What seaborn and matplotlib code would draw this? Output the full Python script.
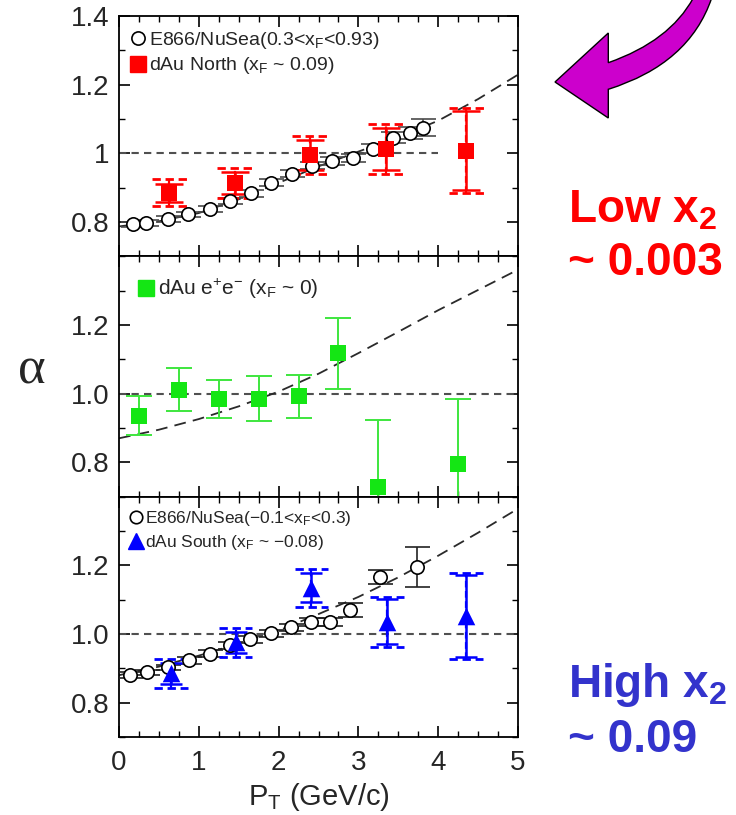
import numpy as np
import matplotlib
matplotlib.use("Agg")
import matplotlib.pyplot as plt
import seaborn as sns
from matplotlib.lines import Line2D
from matplotlib.path import Path
from matplotlib.patches import PathPatch
from matplotlib.ticker import MultipleLocator, FixedLocator, FixedFormatter

# ---------------- data ----------------
# E866/NuSea, 0.3 < xF < 0.93
e866_fwd_pt = [0.17, 0.34, 0.61, 0.87, 1.14, 1.39, 1.65, 1.91, 2.17, 2.42, 2.67, 2.93, 3.18, 3.43, 3.65, 3.81]
e866_fwd_alpha = [0.793, 0.797, 0.808, 0.822, 0.838, 0.860, 0.883, 0.914, 0.940, 0.964, 0.977, 0.986, 1.013, 1.046, 1.060, 1.075]
e866_fwd_err = [0.008, 0.008, 0.008, 0.008, 0.009, 0.009, 0.009, 0.010, 0.010, 0.011, 0.011, 0.012, 0.013, 0.015, 0.018, 0.025]

# dAu North arm (xF ~ 0.09)
north_pt = [0.63, 1.45, 2.39, 3.34, 4.35]
north_alpha = [0.885, 0.913, 0.995, 1.012, 1.008]
north_stat = [0.026, 0.032, 0.043, 0.061, 0.115]
north_sys = [0.039, 0.044, 0.054, 0.073, 0.123]

# dAu e+e- (xF ~ 0)
ee_pt = [0.25, 0.75, 1.25, 1.75, 2.25, 2.75, 3.25, 4.25]
ee_alpha = [0.936, 1.012, 0.985, 0.985, 0.992, 1.117, 0.728, 0.796]
ee_err = [0.057, 0.063, 0.055, 0.066, 0.062, 0.104, 0.196, 0.188]

# E866/NuSea, -0.1 < xF < 0.3
e866_mid_pt = [0.14, 0.35, 0.61, 0.88, 1.14, 1.39, 1.64, 1.90, 2.15, 2.40, 2.65, 2.90, 3.27, 3.73]
e866_mid_alpha = [0.880, 0.888, 0.903, 0.923, 0.943, 0.967, 0.984, 1.002, 1.019, 1.035, 1.035, 1.070, 1.165, 1.194]
e866_mid_err = [0.008, 0.008, 0.008, 0.009, 0.009, 0.010, 0.010, 0.010, 0.011, 0.012, 0.013, 0.020, 0.020, 0.058]

# dAu South arm (xF ~ -0.08)
south_pt = [0.65, 1.46, 2.41, 3.36, 4.35]
south_alpha = [0.885, 0.976, 1.135, 1.036, 1.053]
south_stat = [0.031, 0.030, 0.043, 0.066, 0.120]
south_sys = [0.042, 0.042, 0.055, 0.073, 0.125]

# fitted alpha(pT) curves, one per panel
curve_pt = [0.0, 0.5, 1.0, 1.5, 2.0, 2.5, 3.0, 3.5, 4.0, 4.5, 5.0]
curve_fwd = [0.787, 0.802, 0.826, 0.866, 0.914, 0.962, 1.005, 1.047, 1.095, 1.158, 1.229]
curve_ee = [0.870, 0.895, 0.926, 0.963, 1.006, 1.058, 1.118, 1.180, 1.243, 1.302, 1.361]
curve_mid = [0.880, 0.905, 0.937, 0.972, 1.010, 1.058, 1.108, 1.165, 1.228, 1.295, 1.365]

ref_line_end = [4.0, 5.0, 5.0]

xticks = [0, 1, 2, 3, 4, 5]
top_yticks = [0.8, 1.0, 1.2, 1.4]
top_ylabels = ["0.8", "1", "1.2", "1.4"]
low_yticks = [0.8, 1.0, 1.2]
low_ylabels = ["0.8", "1.0", "1.2"]

# ---------------- style ----------------
sns.set_theme(style="ticks")
plt.rcParams["font.family"] = ["Liberation Sans", "DejaVu Sans"]
plt.rcParams["mathtext.fontset"] = "custom"
plt.rcParams["mathtext.rm"] = "Liberation Sans"
plt.rcParams["mathtext.it"] = "Liberation Sans:italic"
plt.rcParams["mathtext.bf"] = "Liberation Sans:bold"

RED = "#ff0000"
GREEN = "#14e614"
BLUE = "#0000ff"
DASH_GREY = "#505050"

fig = plt.figure(figsize=(7.36, 8.15), dpi=100)
gs = fig.add_gridspec(3, 1, left=0.1617, right=0.7038, top=0.9804, bottom=0.0957, hspace=0)
axes = [fig.add_subplot(gs[i]) for i in range(3)]


def style_axis(ax, yticks, ylabels, show_x):
    ax.set_xlim(0, 5)
    ax.set_ylim(0.7, 1.4)
    ax.xaxis.set_major_locator(FixedLocator(xticks))
    ax.xaxis.set_minor_locator(MultipleLocator(0.25))
    ax.yaxis.set_major_locator(FixedLocator(yticks))
    ax.yaxis.set_major_formatter(FixedFormatter(ylabels))
    ax.yaxis.set_minor_locator(MultipleLocator(0.1))
    ax.tick_params(which="major", direction="in", top=True, right=True,
                   length=8, width=1.2, color="black", labelsize=20, pad=7)
    ax.tick_params(which="minor", direction="in", top=True, right=True,
                   length=4.5, width=1.0, color="black")
    ax.tick_params(axis="x", pad=9)
    if not show_x:
        ax.tick_params(axis="x", labelbottom=False)
    for s in ax.spines.values():
        s.set_linewidth(1.3)
        s.set_color("black")
        s.set_visible(True)
    ax.set_xlabel("")
    ax.set_ylabel("")


def sys_brackets(ax, x, y, sys, color, half):
    x = np.asarray(x)
    y = np.asarray(y)
    sys = np.asarray(sys)
    ax.vlines(x, y - sys, y + sys, colors=color, linestyles=(0, (3, 1.6)), lw=1.6, zorder=3)
    for sign in (-1, 1):
        ax.hlines(y + sign * sys, x - half, x + half, colors=color,
                  linestyles=(0, (3, 1.7)), lw=2.0, zorder=3)


def guide_lines(ax, curve, end):
    ax.hlines(1.0, 0, end, colors=DASH_GREY, linestyles=(0, (3.5, 2.5)), lw=1.5, zorder=1)
    sns.lineplot(x=curve_pt, y=curve, ax=ax, color="#2a2a2a", lw=1.3,
                 linestyle=(0, (6.5, 4)), zorder=2, legend=False)


def e866(ax, x, y, err, cap_color):
    ax.errorbar(x, y, yerr=err, fmt="none", ecolor=cap_color, elinewidth=1.2,
                capsize=9, capthick=1.2, zorder=3)
    sns.scatterplot(x=x, y=y, ax=ax, marker="o", s=92, facecolor="white",
                    edgecolor="black", linewidth=1.2, zorder=6, legend=False)


# ---- top panel: forward E866 and dAu North ----
ax = axes[0]
guide_lines(ax, curve_fwd, ref_line_end[0])
e866(ax, e866_fwd_pt, e866_fwd_alpha, e866_fwd_err, "#4a4a4a")
sys_brackets(ax, north_pt, north_alpha, north_sys, RED, 0.22)
ax.errorbar(north_pt, north_alpha, yerr=north_stat, fmt="none", ecolor=RED,
            elinewidth=1.8, capsize=10, capthick=1.8, zorder=4)
sns.scatterplot(x=north_pt, y=north_alpha, ax=ax, marker="s", s=130, color=RED,
                edgecolor=RED, linewidth=0, zorder=7, legend=False)
style_axis(ax, top_yticks, top_ylabels, False)
h = [Line2D([], [], ls="none", marker="o", ms=9.5, mfc="white", mec="black", mew=1.2),
     Line2D([], [], ls="none", marker="s", ms=11, mfc=RED, mec=RED)]
ax.legend(h, [r"E866/NuSea(0.3<x$_{\mathrm{F}}$<0.93)", r"dAu North (x$_{\mathrm{F}}$ ~ 0.09)"],
          loc="upper left", frameon=False, fontsize=14, handlelength=0.6,
          handletextpad=0.25, labelspacing=0.25, borderaxespad=0.3, borderpad=0.4)

# ---- middle panel: dAu e+e- ----
ax = axes[1]
guide_lines(ax, curve_ee, ref_line_end[1])
ax.errorbar(ee_pt, ee_alpha, yerr=ee_err, fmt="none", ecolor="#3ee63e",
            elinewidth=1.4, capsize=9.5, capthick=1.4, zorder=4)
sns.scatterplot(x=ee_pt, y=ee_alpha, ax=ax, marker="s", s=125, color=GREEN,
                edgecolor=GREEN, linewidth=0, zorder=7, legend=False)
style_axis(ax, low_yticks, low_ylabels, False)
h = [Line2D([], [], ls="none", marker="s", ms=11, mfc=GREEN, mec=GREEN)]
ax.legend(h, [r"dAu e$^{+}$e$^{-}$ (x$_{\mathrm{F}}$ ~ 0)"],
          loc="upper left", frameon=False, fontsize=15, handlelength=0.6,
          handletextpad=0.25, borderaxespad=0.6, borderpad=0.4)

# ---- bottom panel: mid-rapidity E866 and dAu South ----
ax = axes[2]
guide_lines(ax, curve_mid, ref_line_end[2])
e866(ax, e866_mid_pt, e866_mid_alpha, e866_mid_err, "#222222")
sys_brackets(ax, south_pt, south_alpha, south_sys, BLUE, 0.21)
ax.errorbar(south_pt, south_alpha, yerr=south_stat, fmt="none", ecolor=BLUE,
            elinewidth=1.8, capsize=8, capthick=1.8, zorder=4)
sns.scatterplot(x=south_pt, y=south_alpha, ax=ax, marker="^", s=160, color=BLUE,
                edgecolor=BLUE, linewidth=0, zorder=7, legend=False)
style_axis(ax, low_yticks, low_ylabels, True)
ax.set_xticklabels([str(t) for t in xticks])
ax.set_xlabel(r"P$_{\mathrm{T}}$ (GeV/c)", fontsize=21, labelpad=4)
h = [Line2D([], [], ls="none", marker="o", ms=9, mfc="white", mec="black", mew=1.2),
     Line2D([], [], ls="none", marker="^", ms=12, mfc=BLUE, mec=BLUE)]
ax.legend(h, [r"E866/NuSea(−0.1<x$_{\mathrm{F}}$<0.3)", r"dAu South (x$_{\mathrm{F}}$ ~ −0.08)"],
          loc="upper left", frameon=False, fontsize=12.5, handlelength=0.6,
          handletextpad=0.2, labelspacing=0.3, borderaxespad=0.3, borderpad=0.4)

# ---- shared y label ----
fig.text(32 / 736, 1 - 370 / 815, "α", family=["Liberation Serif", "DejaVu Serif"],
         fontsize=38, ha="center", va="center")

# ---- side annotations ----
fig.text(568 / 736, 1 - 222 / 815, r"Low x$_{\mathbf{2}}$", color=RED, fontsize=33,
         fontweight="bold", ha="left", va="baseline")
fig.text(568 / 736, 1 - 275 / 815, "~ 0.003", color=RED, fontsize=33,
         fontweight="bold", ha="left", va="baseline")
fig.text(568 / 736, 1 - 697 / 815, r"High x$_{\mathbf{2}}$", color="#3333cc", fontsize=33,
         fontweight="bold", ha="left", va="baseline")
fig.text(568 / 736, 1 - 752 / 815, "~ 0.09", color="#3333cc", fontsize=33,
         fontweight="bold", ha="left", va="baseline")

# ---- curved pointer arrow ----
pix = [(693.3, -2), (669.7, 41.2), (608.3, 62.7), (608.3, 33.0), (555.0, 82.0),
       (608.3, 118.0), (608.3, 89.3), (689.3, 63.9), (711.7, -2), (693.3, -2)]
codes = [Path.MOVETO, Path.CURVE3, Path.CURVE3, Path.LINETO, Path.LINETO,
         Path.LINETO, Path.LINETO, Path.CURVE3, Path.CURVE3, Path.CLOSEPOLY]
verts = [(px / 736, 1 - py / 815) for px, py in pix]
arrow = PathPatch(Path(verts, codes), facecolor="#cc00cc", edgecolor="black",
                  lw=1.0, transform=fig.transFigure)
fig.add_artist(arrow)

fig.savefig("out.png", dpi=100)
